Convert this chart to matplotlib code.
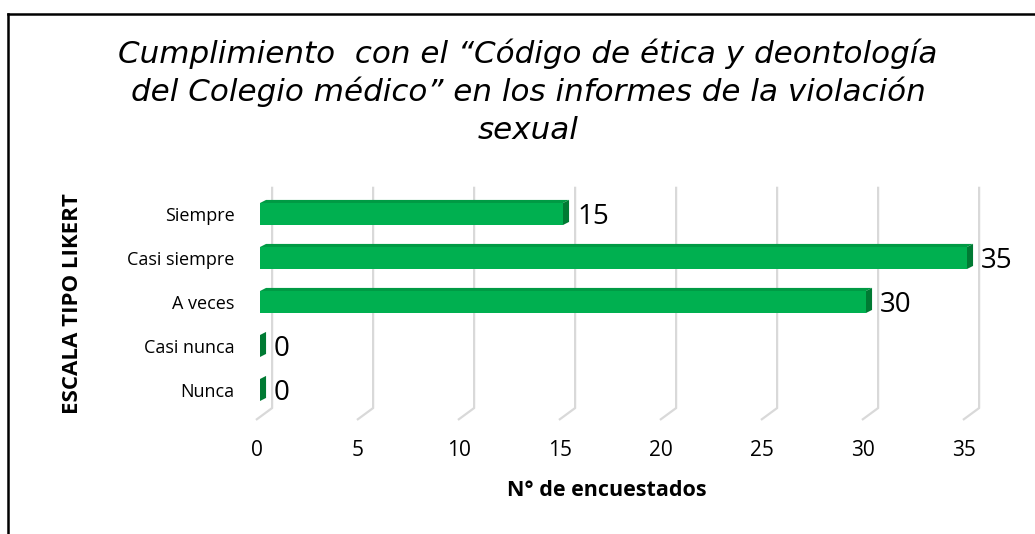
import matplotlib.pyplot as plt
from matplotlib.patches import Polygon, Rectangle
from matplotlib.lines import Line2D

categorias = ['Nunca', 'Casi nunca', 'A veces', 'Casi siempre', 'Siempre']
encuestados = [0, 0, 30, 35, 15]
ticks_x = [0, 5, 10, 15, 20, 25, 30, 35]

W, H = 1035, 534
fig = plt.figure(figsize=(W / 100, H / 100), dpi=100)

# axes placed in pixels: x=0 at px 260, 20.2 px/unit; Nunca at px 390, 44 px/unit
px_left, px_right, px_top, px_bot = 240, 1030, 170, 430
ax = fig.add_axes([px_left / W, (H - px_bot) / H, (px_right - px_left) / W, (px_bot - px_top) / H])
ax.set_xlim(-20 / 20.2, (px_right - 260) / 20.2)
ax.set_ylim(-(px_bot - 390) / 44, (390 - px_top) / 44)
for s in ax.spines.values():
    s.set_visible(False)

verde = '#00B050'
verde_top = '#009A44'
verde_end = '#007A33'
gris = '#D9D9D9'
fuente = 'Open Sans'

# 3D depth offset
dx, dy = 0.3, 0.07
gb, gf = 0.6, -0.2   # back / front x offsets of gridlines

# gridlines (back wall + floor diagonal)
for t in ticks_x:
    ax.plot([t + gb, t + gb, t + gf], [4.62, -0.41, -0.68], color=gris, lw=1.6, zorder=1,
            solid_capstyle='butt')

h = 0.25
for i, v in enumerate(encuestados):
    y0, y1 = i - h, i + h
    if v > 0:
        ax.add_patch(Rectangle((0, y0), v, 2 * h, facecolor=verde, edgecolor='none', zorder=3))
        ax.add_patch(Polygon([(0, y1), (v, y1), (v + dx, y1 + dy), (dx, y1 + dy)],
                             closed=True, facecolor=verde_top, edgecolor='none', zorder=3))
    ax.add_patch(Polygon([(v, y0), (v, y1), (v + dx, y1 + dy), (v + dx, y0 + dy)],
                         closed=True, facecolor=verde_end, edgecolor='none', zorder=3))
    ax.annotate(str(v), xy=(v + dx, i), xytext=(8, -3), textcoords='offset pixels',
                ha='left', va='center', fontsize=20, family=fuente, color='black', zorder=4)

ax.set_yticks(range(len(categorias)))
ax.set_yticklabels(categorias, family=fuente, fontsize=13)
ax.set_xticks([t + gf + 0.05 for t in ticks_x])
ax.set_xticklabels([str(t) for t in ticks_x], family=fuente, fontsize=15)
ax.tick_params(axis='both', length=0)
ax.tick_params(axis='y', pad=4)
ax.tick_params(axis='x', pad=7)

fig.text(607 / W, 1 - 490 / H, 'N° de encuestados', ha='center', va='center',
         family=fuente, fontweight='bold', fontsize=15.5)
fig.text(72 / W, 1 - 304 / H, 'ESCALA TIPO LIKERT', ha='center', va='center', rotation=90,
         family=fuente, fontweight='bold', fontsize=16)

titulo = ['Cumplimiento  con el “Código de ética y deontología',
          'del Colegio médico” en los informes de la violación',
          'sexual']
for k, linea in enumerate(titulo):
    fig.text(528 / W, 1 - (63 + 38 * k) / H, linea, ha='center', va='baseline',
             family='DejaVu Sans', style='italic', fontsize=22.3)

# partial frame (top and left edges)
fig.add_artist(Line2D([8 / W, 1], [1 - 14 / H, 1 - 14 / H], color='black', lw=1.8,
                      transform=fig.transFigure))
fig.add_artist(Line2D([8.3 / W, 8.3 / W], [0, 1 - 14 / H], color='black', lw=1.8,
                      transform=fig.transFigure))

fig.savefig('out.png', dpi=100)
